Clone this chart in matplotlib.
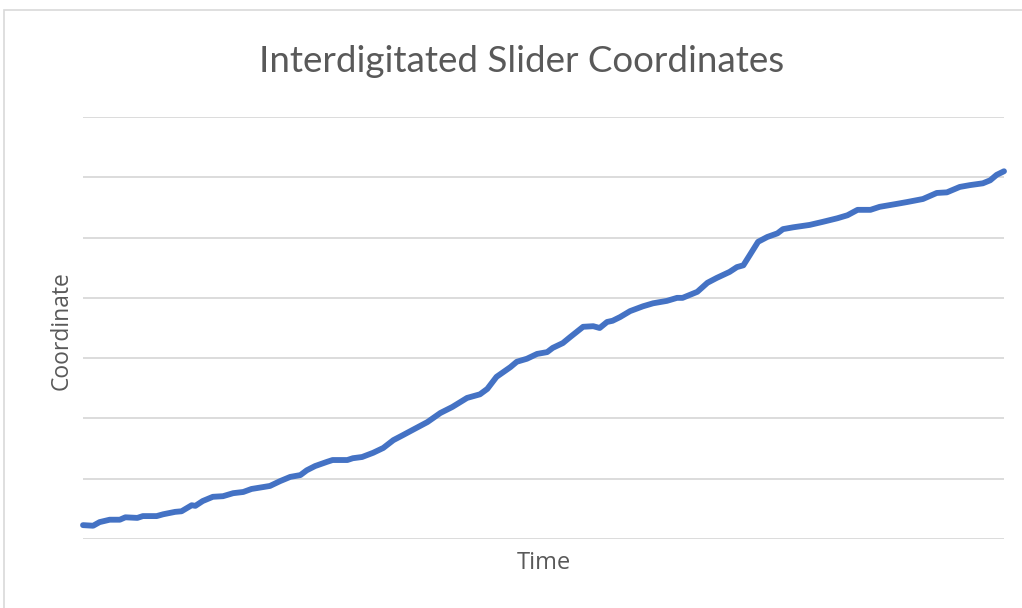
#!/usr/bin/env python3

import matplotlib
matplotlib.use('Agg')
import matplotlib.pyplot as plt
from matplotlib.patches import Rectangle

# time (% of run) and slider coordinate (arbitrary units)
time = [0, 1.1, 1.8, 2.9, 4.0, 4.6, 5.9, 6.5, 8.0, 8.7, 10.0, 10.7, 11.8, 12.2,
        13.0, 14.1, 15.2, 16.3, 17.4, 18.3, 19.5, 20.3, 21.4, 22.5, 23.6,
        24.3, 25.2, 26.5, 27.1, 28.7, 29.3, 30.3, 31.5, 32.6, 33.7, 34.7,
        35.8, 37.4, 38.8, 40.1, 41.7, 43.1, 43.9, 44.9, 46.4, 47.1, 48.2,
        49.3, 50.4, 51.0, 52.1, 52.9, 54.3, 55.4, 56.1, 56.9, 57.5, 58.3,
        59.4, 60.8, 61.9, 63.4, 64.5, 65.1, 66.7, 67.8, 68.8, 70.2, 71.0,
        71.7, 72.4, 73.3, 74.3, 75.4, 76.0, 77.1, 78.9, 80.3, 81.9, 83.0,
        84.1, 85.5, 86.5, 88.4, 89.5, 91.2, 92.7, 93.8, 95.2, 96.3, 97.7,
        98.5, 99.2, 100]
coord = [0.23, 0.22, 0.28, 0.32, 0.32, 0.36, 0.35, 0.38, 0.38, 0.41, 0.45,
         0.46, 0.56, 0.55, 0.63, 0.70, 0.71, 0.76, 0.78, 0.83, 0.86, 0.88,
         0.96, 1.03, 1.06, 1.14, 1.21, 1.28, 1.31, 1.31, 1.34, 1.36, 1.43,
         1.51, 1.64, 1.72, 1.81, 1.94, 2.09, 2.19, 2.34, 2.40, 2.49, 2.69,
         2.85, 2.94, 2.99, 3.07, 3.10, 3.17, 3.25, 3.35, 3.52, 3.53, 3.50,
         3.60, 3.62, 3.68, 3.78, 3.86, 3.91, 3.95, 4.00, 4.00, 4.10, 4.25,
         4.33, 4.43, 4.51, 4.54, 4.71, 4.93, 5.01, 5.07, 5.14, 5.17, 5.21,
         5.26, 5.32, 5.37, 5.46, 5.46, 5.51, 5.56, 5.59, 5.64, 5.74, 5.75,
         5.84, 5.87, 5.90, 5.95, 6.04, 6.10]
grid_levels = [0, 1, 2, 3, 4, 5, 6, 7]

W, H = 1022, 608

fig = plt.figure(figsize=(W / 100, H / 100), dpi=100)
fig.patch.set_facecolor('white')

# chart area border (Excel style)
fig.patches.append(Rectangle((4 / W, -0.1), 1.2, 1 - 10 / H + 0.1,
                             transform=fig.transFigure, fill=False,
                             edgecolor='#d9d9d9', linewidth=1.2))

ax = fig.add_axes([83 / W, 1 - 539 / H, (1004 - 83) / W, (539 - 117) / H])
ax.set_xlim(0, 100)
ax.set_ylim(0, 7)

for lvl in grid_levels:
    ax.axhline(lvl, color='#d9d9d9', linewidth=1.3, zorder=1)

ax.plot(time, coord, color='#4472c4', linewidth=4.2,
        solid_capstyle='round', solid_joinstyle='round', zorder=3,
        clip_on=False)

for s in ax.spines.values():
    s.set_visible(False)
ax.set_xticks([])
ax.set_yticks([])

fig.text(522 / W, 1 - 61 / H, 'Interdigitated Slider Coordinates',
         ha='center', va='center', fontsize=26.5, color='#595959',
         family='Lato')
fig.text(544 / W, 1 - 563 / H, 'Time', ha='center', va='center',
         fontsize=17, color='#595959', family='Open Sans')
fig.text(62 / W, 1 - 331 / H, 'Coordinate', ha='center', va='center',
         rotation=90, fontsize=16.5, color='#595959', family='Open Sans')

fig.savefig('out.png', dpi=100)
